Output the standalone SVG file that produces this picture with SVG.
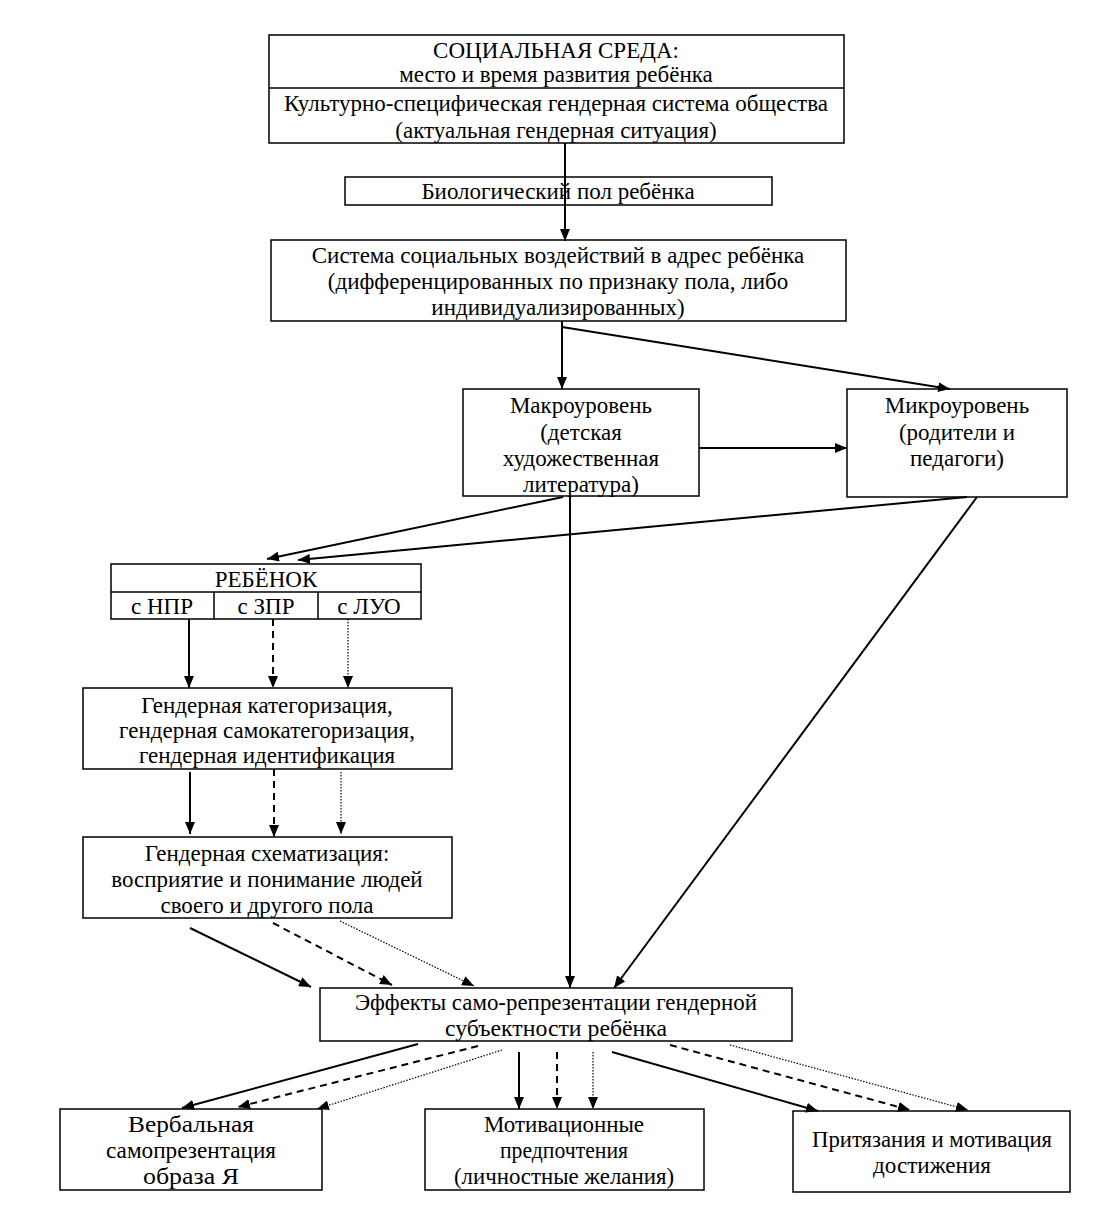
<svg xmlns="http://www.w3.org/2000/svg" width="1103" height="1230" viewBox="0 0 1103 1230">
<defs>
<marker id="ah" markerWidth="12" markerHeight="10" refX="12" refY="5" orient="auto" markerUnits="userSpaceOnUse">
<path d="M0,0 L12,5 L0,10 z" fill="#000" stroke="none"/>
</marker>
</defs>
<style>
.box{fill:#fff;stroke:#000;stroke-width:1.5}
.div{stroke:#000;stroke-width:1.5;fill:none}
text{font-family:"Liberation Serif","Times New Roman",serif;font-size:23px;fill:#000;text-anchor:middle}
.c{font-size:24px}
.s{stroke:#000;stroke-width:2;fill:none;marker-end:url(#ah)}
.d{stroke:#000;stroke-width:2;fill:none;stroke-dasharray:7 5;marker-end:url(#ah)}
.o{stroke:#000;stroke-width:1.2;fill:none;stroke-dasharray:1.5 1.5;marker-end:url(#ah)}
.p{stroke:#000;stroke-width:2;fill:none}
</style>
<rect width="1103" height="1230" fill="#fff"/>

<g id="social">
<rect class="box" x="269" y="35" width="575" height="108"/>
<line class="div" x1="269" y1="88" x2="844" y2="88"/>
<text x="556" y="58">СОЦИАЛЬНАЯ СРЕДА:</text>
<text x="556" y="82">место и время развития ребёнка</text>
<text x="556" y="111">Культурно-специфическая гендерная система общества</text>
<text x="556" y="138">(актуальная гендерная ситуация)</text>
</g>

<g id="bio">
<rect class="box" x="345" y="177" width="427" height="28"/>
<text x="558" y="199">Биологический пол ребёнка</text>
</g>

<g id="system">
<rect class="box" x="271" y="240" width="575" height="81"/>
<text x="558" y="263">Система социальных воздействий в адрес ребёнка</text>
<text x="558" y="289">(дифференцированных по признаку пола, либо</text>
<text x="558" y="315">индивидуализированных)</text>
</g>

<g id="macro">
<rect class="box" x="463" y="389" width="236" height="107"/>
<text x="581" y="413">Макроуровень</text>
<text x="581" y="440">(детская</text>
<text x="581" y="466">художественная</text>
<text x="581" y="492">литература)</text>
</g>

<g id="micro">
<rect class="box" x="847" y="389" width="220" height="108"/>
<text x="957" y="413">Микроуровень</text>
<text x="957" y="440">(родители и</text>
<text x="957" y="466">педагоги)</text>
</g>

<g id="child">
<rect class="box" x="111" y="564" width="310" height="55"/>
<line class="div" x1="111" y1="592" x2="421" y2="592"/>
<line class="div" x1="214" y1="592" x2="214" y2="619"/>
<line class="div" x1="318" y1="592" x2="318" y2="619"/>
<text x="266" y="587">РЕБЁНОК</text>
<text x="162" y="614">с НПР</text>
<text x="266" y="614">с ЗПР</text>
<text x="369" y="614">с ЛУО</text>
</g>

<g id="categorization">
<rect class="box" x="83" y="688" width="369" height="81"/>
<text x="267" y="713">Гендерная категоризация,</text>
<text x="267" y="738">гендерная самокатегоризация,</text>
<text x="267" y="763">гендерная идентификация</text>
</g>

<g id="schematization">
<rect class="box" x="83" y="837" width="369" height="81"/>
<text x="267" y="861">Гендерная схематизация:</text>
<text x="267" y="887">восприятие и понимание людей</text>
<text x="267" y="913">своего и другого пола</text>
</g>

<g id="effects">
<rect class="box" x="320" y="988" width="472" height="53"/>
<text class="c" x="556" y="1010" textLength="402" lengthAdjust="spacingAndGlyphs">Эффекты само-репрезентации гендерной</text>
<text class="c" x="556" y="1036" textLength="222" lengthAdjust="spacingAndGlyphs">субъектности ребёнка</text>
</g>

<g id="verbal">
<rect class="box" x="60" y="1109" width="262" height="81"/>
<text class="c" x="191" y="1132" textLength="126" lengthAdjust="spacingAndGlyphs">Вербальная</text>
<text class="c" x="191" y="1158" textLength="170" lengthAdjust="spacingAndGlyphs">самопрезентация</text>
<text class="c" x="191" y="1184" textLength="96" lengthAdjust="spacingAndGlyphs">образа Я</text>
</g>

<g id="motivational">
<rect class="box" x="425" y="1109" width="279" height="81"/>
<text class="c" x="564" y="1132" textLength="160" lengthAdjust="spacingAndGlyphs">Мотивационные</text>
<text class="c" x="564" y="1158" textLength="128" lengthAdjust="spacingAndGlyphs">предпочтения</text>
<text class="c" x="564" y="1184" textLength="220" lengthAdjust="spacingAndGlyphs">(личностные желания)</text>
</g>

<g id="pretensions">
<rect class="box" x="793" y="1111" width="277" height="81"/>
<text class="c" x="932" y="1147" textLength="240" lengthAdjust="spacingAndGlyphs">Притязания и мотивация</text>
<text class="c" x="932" y="1173" textLength="118" lengthAdjust="spacingAndGlyphs">достижения</text>
</g>

<g id="connectors">
<line class="s" x1="565" y1="143" x2="565" y2="241"/>
<line class="p" x1="562" y1="321" x2="562" y2="327"/>
<line class="s" x1="562" y1="327" x2="562" y2="389"/>
<line class="s" x1="562" y1="327" x2="950" y2="389"/>
<line class="s" x1="699" y1="448" x2="847" y2="448"/>
<line class="s" x1="563" y1="497" x2="267" y2="559"/>
<line class="s" x1="967" y1="497" x2="298" y2="560"/>
<line class="s" x1="570" y1="496" x2="570" y2="988"/>
<line class="s" x1="977" y1="497" x2="614" y2="988"/>

<line class="s" x1="189" y1="619" x2="189" y2="688"/>
<line class="d" x1="273" y1="619" x2="273" y2="688"/>
<line class="o" x1="348" y1="619" x2="348" y2="688"/>

<line class="s" x1="190" y1="772" x2="190" y2="834"/>
<line class="d" x1="274" y1="769" x2="274" y2="837"/>
<line class="o" x1="341" y1="772" x2="341" y2="834"/>

<line class="s" x1="190" y1="928" x2="311" y2="987"/>
<line class="d" x1="273" y1="923" x2="392" y2="985"/>
<line class="o" x1="340" y1="921" x2="474" y2="986"/>

<line class="s" x1="418" y1="1044" x2="182" y2="1108"/>
<line class="d" x1="478" y1="1046" x2="238" y2="1107"/>
<line class="o" x1="502" y1="1050" x2="317" y2="1109"/>

<line class="s" x1="519" y1="1052" x2="519" y2="1109"/>
<line class="d" x1="557" y1="1052" x2="557" y2="1109"/>
<line class="o" x1="593" y1="1052" x2="593" y2="1109"/>

<line class="s" x1="612" y1="1052" x2="818" y2="1111"/>
<line class="d" x1="670" y1="1045" x2="910" y2="1110"/>
<line class="o" x1="730" y1="1045" x2="968" y2="1110"/>
</g>
</svg>
